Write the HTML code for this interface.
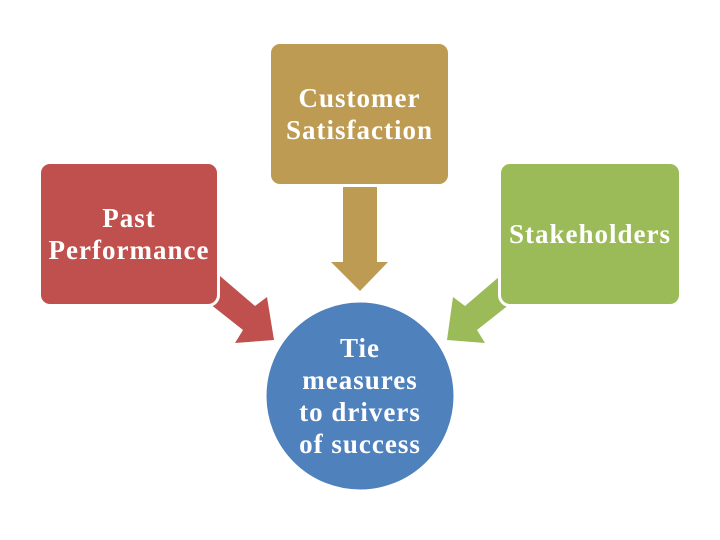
<!DOCTYPE html>
<html><head><style>
body{margin:0;width:720px;height:540px;background:#fff;overflow:hidden;position:relative;font-family:"Liberation Serif",serif}
.b{position:absolute;border:3px solid #fff;border-radius:12px;color:#fff;font-size:27px;font-weight:bold;letter-spacing:1px;line-height:32px;display:flex;align-items:center;justify-content:center;text-align:center;box-sizing:border-box}
</style></head><body>
<svg width="720" height="540" style="position:absolute;left:0;top:0">
<polygon points="343,186 377,186 377,262 388,262 360,291 331,262 343,262" fill="#BE9B52"/>
<polygon points="220,276 255,306 267,297 274,340 235,343 243,330 205,300" fill="#C0504D"/>
<polygon points="500,276 465,306 453,297 447,340 485,343 477,330 515,300" fill="#9BBB59"/>
<circle cx="360" cy="396" r="95" fill="#4F81BD" stroke="#fff" stroke-width="3"/>
</svg>
<div class="b" style="left:268px;top:41px;width:183px;height:146px;background:#BE9B52">Customer<br>Satisfaction</div>
<div class="b" style="left:38px;top:161px;width:182px;height:146px;background:#C0504D">Past<br>Performance</div>
<div class="b" style="left:498px;top:161px;width:184px;height:146px;background:#9BBB59">Stakeholders</div>
<div style="position:absolute;left:255px;top:332px;width:210px;text-align:center;color:#fff;font-size:27px;font-weight:bold;letter-spacing:1px;line-height:32px">Tie<br>measures<br>to drivers<br>of success</div>
</body></html>
